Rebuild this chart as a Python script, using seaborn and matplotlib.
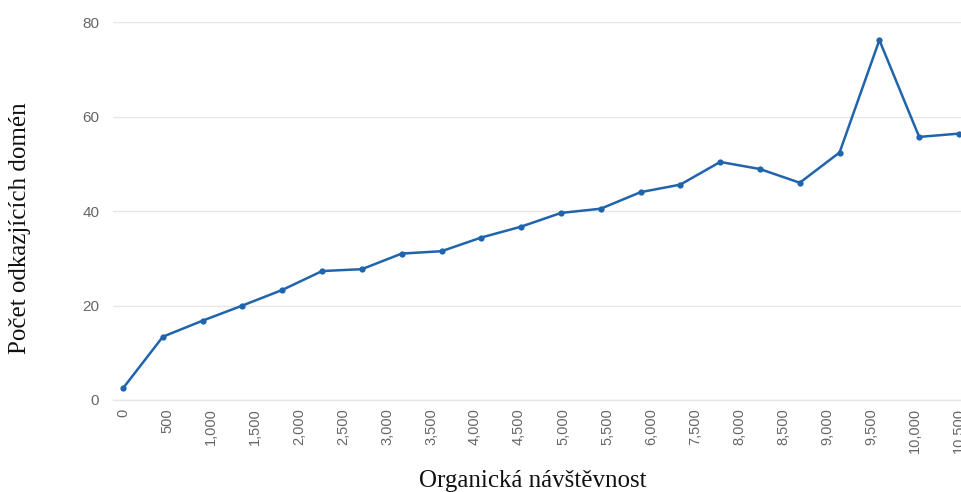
import numpy as np
import pandas as pd
import matplotlib
matplotlib.use("Agg")
import matplotlib.pyplot as plt
import seaborn as sns

# Data
visits = [0, 500, 1000, 1500, 2000, 2500, 3000, 3500, 4000, 4500, 5000,
          5500, 6000, 6500, 7000, 7500, 8000, 8500, 9000, 9500, 10000, 10500]
domains = [2.5, 13.4, 16.8, 20.0, 23.3, 27.3, 27.7, 31.0, 31.5, 34.4, 36.7,
           39.6, 40.5, 44.0, 45.6, 50.4, 48.9, 46.0, 52.4, 76.2, 55.7, 56.4]
tick_labels = ["0", "500", "1,000", "1,500", "2,000", "2,500", "3,000", "3,500",
               "4,000", "4,500", "5,000", "5,500", "6,000", "7,500", "8,000",
               "8,500", "9,000", "9,500", "10,000", "10,500"]
y_ticks = [0, 20, 40, 60, 80]

df = pd.DataFrame({"visits": visits, "domains": domains})

sns.set_theme(style="white")
plt.rcParams['font.family'] = ['Liberation Sans', 'DejaVu Sans']

fig = plt.figure(figsize=(9.62, 4.92), dpi=100)
ax = fig.add_axes([0.1175, 0.187, 0.8825, 0.768])

sns.lineplot(data=df, x="visits", y="domains", ax=ax, color="#1f64ad",
             linewidth=1.8, marker="o", markersize=4.5, markeredgewidth=0)

ax.set_ylim(0, 80)
ax.set_xlim(-126, 10538)
ax.set_yticks(y_ticks)
ax.set_yticklabels([str(v) for v in y_ticks])
ax.set_xticks(np.linspace(visits[0], visits[-1], len(tick_labels)))
ax.set_xticklabels(tick_labels, rotation=90, va="top", ha="center")

ax.yaxis.grid(True, color="#e6e6e6", linewidth=1)
ax.xaxis.grid(False)
for s in ["top", "right", "left"]:
    ax.spines[s].set_visible(False)
ax.spines["bottom"].set_color("#e6e6e6")
ax.spines["bottom"].set_linewidth(1)

ax.tick_params(axis="x", colors="#666666", labelsize=10.5, length=6,
               width=1, direction="inout", pad=3)
ax.tick_params(axis="x", color="#e6e6e6")
ax.tick_params(axis="y", colors="#666666", labelsize=11, length=0, pad=10)

ax.set_xlabel("Organická návštěvnost", family=["Liberation Serif", "DejaVu Serif"],
              fontsize=18, color="#111111", labelpad=12)
ax.xaxis.label.set_x(0.494)
ax.set_ylabel("Počet odkazjících domén", family=["Liberation Serif", "DejaVu Serif"],
              fontsize=18, color="#111111", labelpad=37)
ax.yaxis.label.set_y(0.455)

fig.savefig("out.png", dpi=100)
